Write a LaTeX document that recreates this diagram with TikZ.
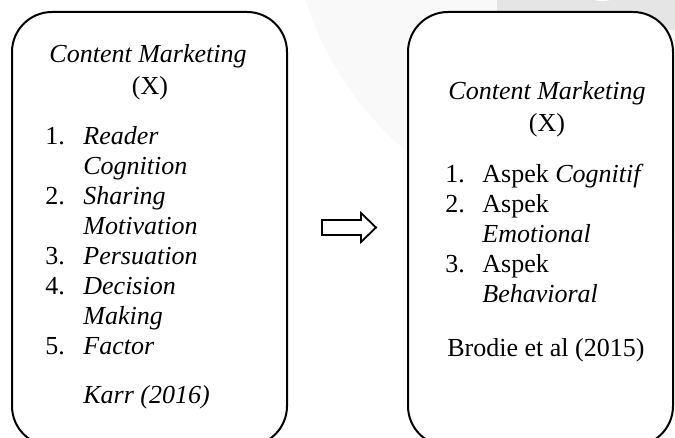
\documentclass[tikz,border=0pt]{standalone}
\usepackage{fontspec}
\setmainfont{Liberation Serif}
\usetikzlibrary{positioning}

\begin{document}
\begin{tikzpicture}[x=0.5pt,y=-0.5pt,
    panel/.style={draw, fill=white, line width=1pt, rounded corners=20pt},
    txt/.style={inner sep=0pt, font=\fontsize{13}{15}\selectfont},
    list/.style={txt, anchor=base west}]

\useasboundingbox (0,0) rectangle (675,438);

% faint marks behind the boxes
\fill[black!2.5] (620,-100) circle (165pt);
\fill[black!10] (497,0) rectangle (675,30);
\fill[white] (602,-4) ellipse (7pt and 2.5pt);

\draw[panel] (12,12) rectangle (287,446);
\draw[panel] (408,12) rectangle (673,446);

% left box
\node[txt, anchor=base] (lefttitle) at (148,63) {\textit{Content Marketing}};
\node[txt, anchor=base] (leftx) at (150,95) {(X)};
\node[list] (leftlist) at (45,145) {\begin{tabular}[t]{@{}p{19pt}@{}l@{}}
    1. & \textit{Reader}\\
       & \textit{Cognition}\\
    2. & \textit{Sharing}\\
       & \textit{Motivation}\\
    3. & \textit{Persuation}\\
    4. & \textit{Decision}\\
       & \textit{Making}\\
    5. & \textit{Factor}
  \end{tabular}};
\node[list] (leftsrc) at (83,403) {\textit{Karr (2016)}};

% right box
\node[txt, anchor=base] (righttitle) at (547,100) {\textit{Content Marketing}};
\node[txt, anchor=base] (rightx) at (547,132) {(X)};
\node[list] (rightlist) at (445,183) {\begin{tabular}[t]{@{}p{18.5pt}@{}l@{}}
    1. & Aspek \textit{Cognitif}\\
    2. & Aspek\\
       & \textit{Emotional}\\
    3. & Aspek\\
       & \textit{Behavioral}
  \end{tabular}};
\node[list] (rightsrc) at (447,357) {Brodie et al (2015)};

% hollow arrow
\draw[line width=0.9pt] (322,220) -- (361,220) -- (361,213) -- (376,227.5)
    -- (361,242) -- (361,235) -- (322,235) -- cycle;
\end{tikzpicture}
\end{document}
